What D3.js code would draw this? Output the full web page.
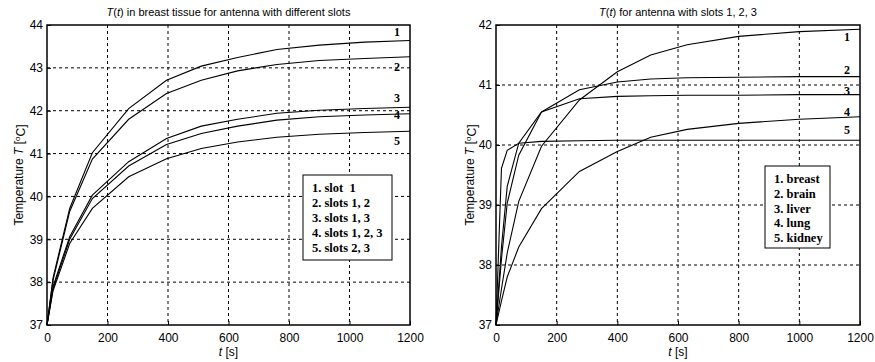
<!DOCTYPE html>
<html>
<head>
<meta charset="utf-8">
<script src="https://cdn.jsdelivr.net/npm/d3@7"></script>
<style>
  body { margin: 0; background: #fff; }
  svg { display: block; }
  .tick text { font-family: "Liberation Sans", Arial, sans-serif; font-size: 12px; fill: #000; }
  .lbl { font-family: "Liberation Serif", "Times New Roman", serif; font-weight: bold; font-size: 12px; }
  .leg { font-family: "Liberation Serif", "Times New Roman", serif; font-weight: bold; font-size: 12.5px; }
</style>
</head>
<body>
<div id="plot"></div>
<script>
// left panel: breast tissue, different slots
var tLeft = [0, 20, 75, 150, 270, 395, 510, 630, 760, 900, 1050, 1200];
var slot1 = [37, 38.1, 39.72, 41.02, 42.05, 42.71, 43.04, 43.24, 43.43, 43.53, 43.6, 43.64];
var slot12 = [37, 38.05, 39.65, 40.87, 41.8, 42.4, 42.71, 42.93, 43.08, 43.17, 43.22, 43.26];
var slot13 = [37, 37.9, 39.06, 40.03, 40.81, 41.35, 41.64, 41.8, 41.94, 42.01, 42.05, 42.08];
var slot123 = [37, 37.85, 39.0, 39.95, 40.71, 41.21, 41.47, 41.64, 41.78, 41.86, 41.9, 41.93];
var slot23 = [37, 37.8, 38.9, 39.72, 40.46, 40.88, 41.12, 41.27, 41.38, 41.45, 41.49, 41.52];
var legendLeft = ["1. slot  1", "2. slots 1, 2", "3. slots 1, 3", "4. slots 1, 2, 3", "5. slots 2, 3"];

// right panel: slots 1,2,3 in different tissues
var tRight = [0, 18, 37, 75, 150, 275, 400, 510, 630, 800, 1000, 1200];
var breast = [37, 37.6, 38.2, 39.06, 39.98, 40.75, 41.22, 41.5, 41.67, 41.81, 41.89, 41.93];
var brain = [37, 38.3, 39.31, 40.03, 40.55, 40.92, 41.05, 41.1, 41.12, 41.13, 41.14, 41.14];
var liver = [37, 38.1, 39.03, 39.83, 40.55, 40.77, 40.81, 40.82, 40.83, 40.83, 40.84, 40.84];
var lung = [37, 37.4, 37.8, 38.3, 38.94, 39.56, 39.89, 40.13, 40.26, 40.36, 40.43, 40.47];
var kidney = [37, 39.61, 39.91, 40.03, 40.06, 40.07, 40.08, 40.08, 40.08, 40.08, 40.08, 40.08];
var legendRight = ["1. breast", "2. brain", "3. liver", "4. lung", "5. kidney"];

var xTicks = [0, 200, 400, 600, 800, 1000, 1200];

var svg = d3.select("#plot").append("svg")
    .attr("width", 875)
    .attr("height", 362);

function drawPanel(p) {
    var g = svg.append("g");
    var x = d3.scaleLinear().domain([0, 1200]).range([p.left, p.right]);
    var y = d3.scaleLinear().domain(p.yDomain).range([p.bottom, p.top]);
    var yTicks = d3.range(p.yDomain[0], p.yDomain[1] + 1);

    // grid
    g.append("g").selectAll("line").data(xTicks.slice(1, -1)).enter().append("line")
        .attr("x1", d => x(d)).attr("x2", d => x(d))
        .attr("y1", p.top).attr("y2", p.bottom)
        .attr("stroke", "#000").attr("stroke-width", 1).attr("stroke-dasharray", "3,3");
    g.append("g").selectAll("line").data(yTicks.slice(1, -1)).enter().append("line")
        .attr("x1", p.left).attr("x2", p.right)
        .attr("y1", d => y(d)).attr("y2", d => y(d))
        .attr("stroke", "#000").attr("stroke-width", 1).attr("stroke-dasharray", "3,3");

    // axes
    var xa = g.append("g").attr("transform", "translate(0," + p.bottom + ")")
        .call(d3.axisBottom(x).tickValues(xTicks).tickFormat(d3.format("d")).tickSize(-4).tickPadding(8));
    var ya = g.append("g").attr("transform", "translate(" + p.left + ",0)")
        .call(d3.axisLeft(y).tickValues(yTicks).tickFormat(d3.format("d")).tickSize(-4).tickPadding(4));
    xa.select(".domain").remove();
    ya.select(".domain").remove();

    g.append("rect")
        .attr("x", p.left).attr("y", p.top)
        .attr("width", p.right - p.left).attr("height", p.bottom - p.top)
        .attr("fill", "none").attr("stroke", "#000").attr("stroke-width", 1.5);

    // curves
    var line = d3.line().x(d => x(d[0])).y(d => y(d[1]));
    p.series.forEach(function (s) {
        g.append("path")
            .datum(p.t.map((t, i) => [t, s[i]]))
            .attr("d", line)
            .attr("fill", "none").attr("stroke", "#000").attr("stroke-width", 1.1);
    });

    // curve numbers
    p.numY.forEach(function (v, i) {
        g.append("text").attr("class", "lbl")
            .attr("x", p.right - 13).attr("y", y(v)).attr("dy", "0.35em")
            .attr("text-anchor", "middle").text(i + 1);
    });

    // legend
    var lg = p.legend;
    g.append("rect").attr("x", lg.x).attr("y", lg.y).attr("width", lg.w).attr("height", lg.h)
        .attr("fill", "#fff").attr("stroke", "#000").attr("stroke-width", 1);
    g.append("g").selectAll("text").data(p.legendText).enter().append("text")
        .attr("class", "leg")
        .attr("x", lg.x + 9).attr("y", (d, i) => lg.y + 13 + i * lg.step)
        .attr("dy", "0.35em")
        .attr("xml:space", "preserve")
        .text(d => d);

    // title
    var title = g.append("text")
        .attr("x", (p.left + p.right) / 2).attr("y", 16)
        .attr("text-anchor", "middle")
        .style("font-family", "Liberation Sans, Arial, sans-serif").style("font-size", "11px");
    title.append("tspan").style("font-style", "italic").text("T");
    title.append("tspan").text("(");
    title.append("tspan").style("font-style", "italic").text("t");
    title.append("tspan").text(p.title);

    // x label
    var xl = g.append("text")
        .attr("x", (p.left + p.right) / 2).attr("y", 356)
        .attr("text-anchor", "middle")
        .style("font-family", "Liberation Sans, Arial, sans-serif").style("font-size", "12px");
    xl.append("tspan").style("font-style", "italic").text("t");
    xl.append("tspan").text(" [s]");

    // y label
    var yl = g.append("text")
        .attr("transform", "translate(" + p.yLabelX + "," + ((p.top + p.bottom) / 2) + ") rotate(-90)")
        .attr("text-anchor", "middle")
        .style("font-family", "Liberation Sans, Arial, sans-serif").style("font-size", "12px");
    yl.append("tspan").text("Temperature ");
    yl.append("tspan").style("font-style", "italic").text("T");
    yl.append("tspan").text(" [");
    yl.append("tspan").attr("dy", "-0.4em").style("font-size", "8px").text("o");
    yl.append("tspan").attr("dy", "0.4em").text("C]");
}

drawPanel({
    left: 47, right: 410, top: 25, bottom: 325,
    yDomain: [37, 44],
    t: tLeft,
    series: [slot1, slot12, slot13, slot123, slot23],
    numY: [43.85, 43.03, 42.3, 41.9, 41.3],
    legend: { x: 303, y: 175, w: 89, h: 85, step: 15 },
    legendText: legendLeft,
    title: ") in breast tissue for antenna with different slots",
    yLabelX: 23
});

drawPanel({
    left: 496, right: 860, top: 25, bottom: 325,
    yDomain: [37, 42],
    t: tRight,
    series: [breast, brain, liver, lung, kidney],
    numY: [41.8, 41.25, 40.9, 40.55, 40.25],
    legend: { x: 765, y: 166, w: 65, h: 82, step: 14.6 },
    legendText: legendRight,
    title: ") for antenna with slots 1, 2, 3",
    yLabelX: 474
});
</script>
</body>
</html>
